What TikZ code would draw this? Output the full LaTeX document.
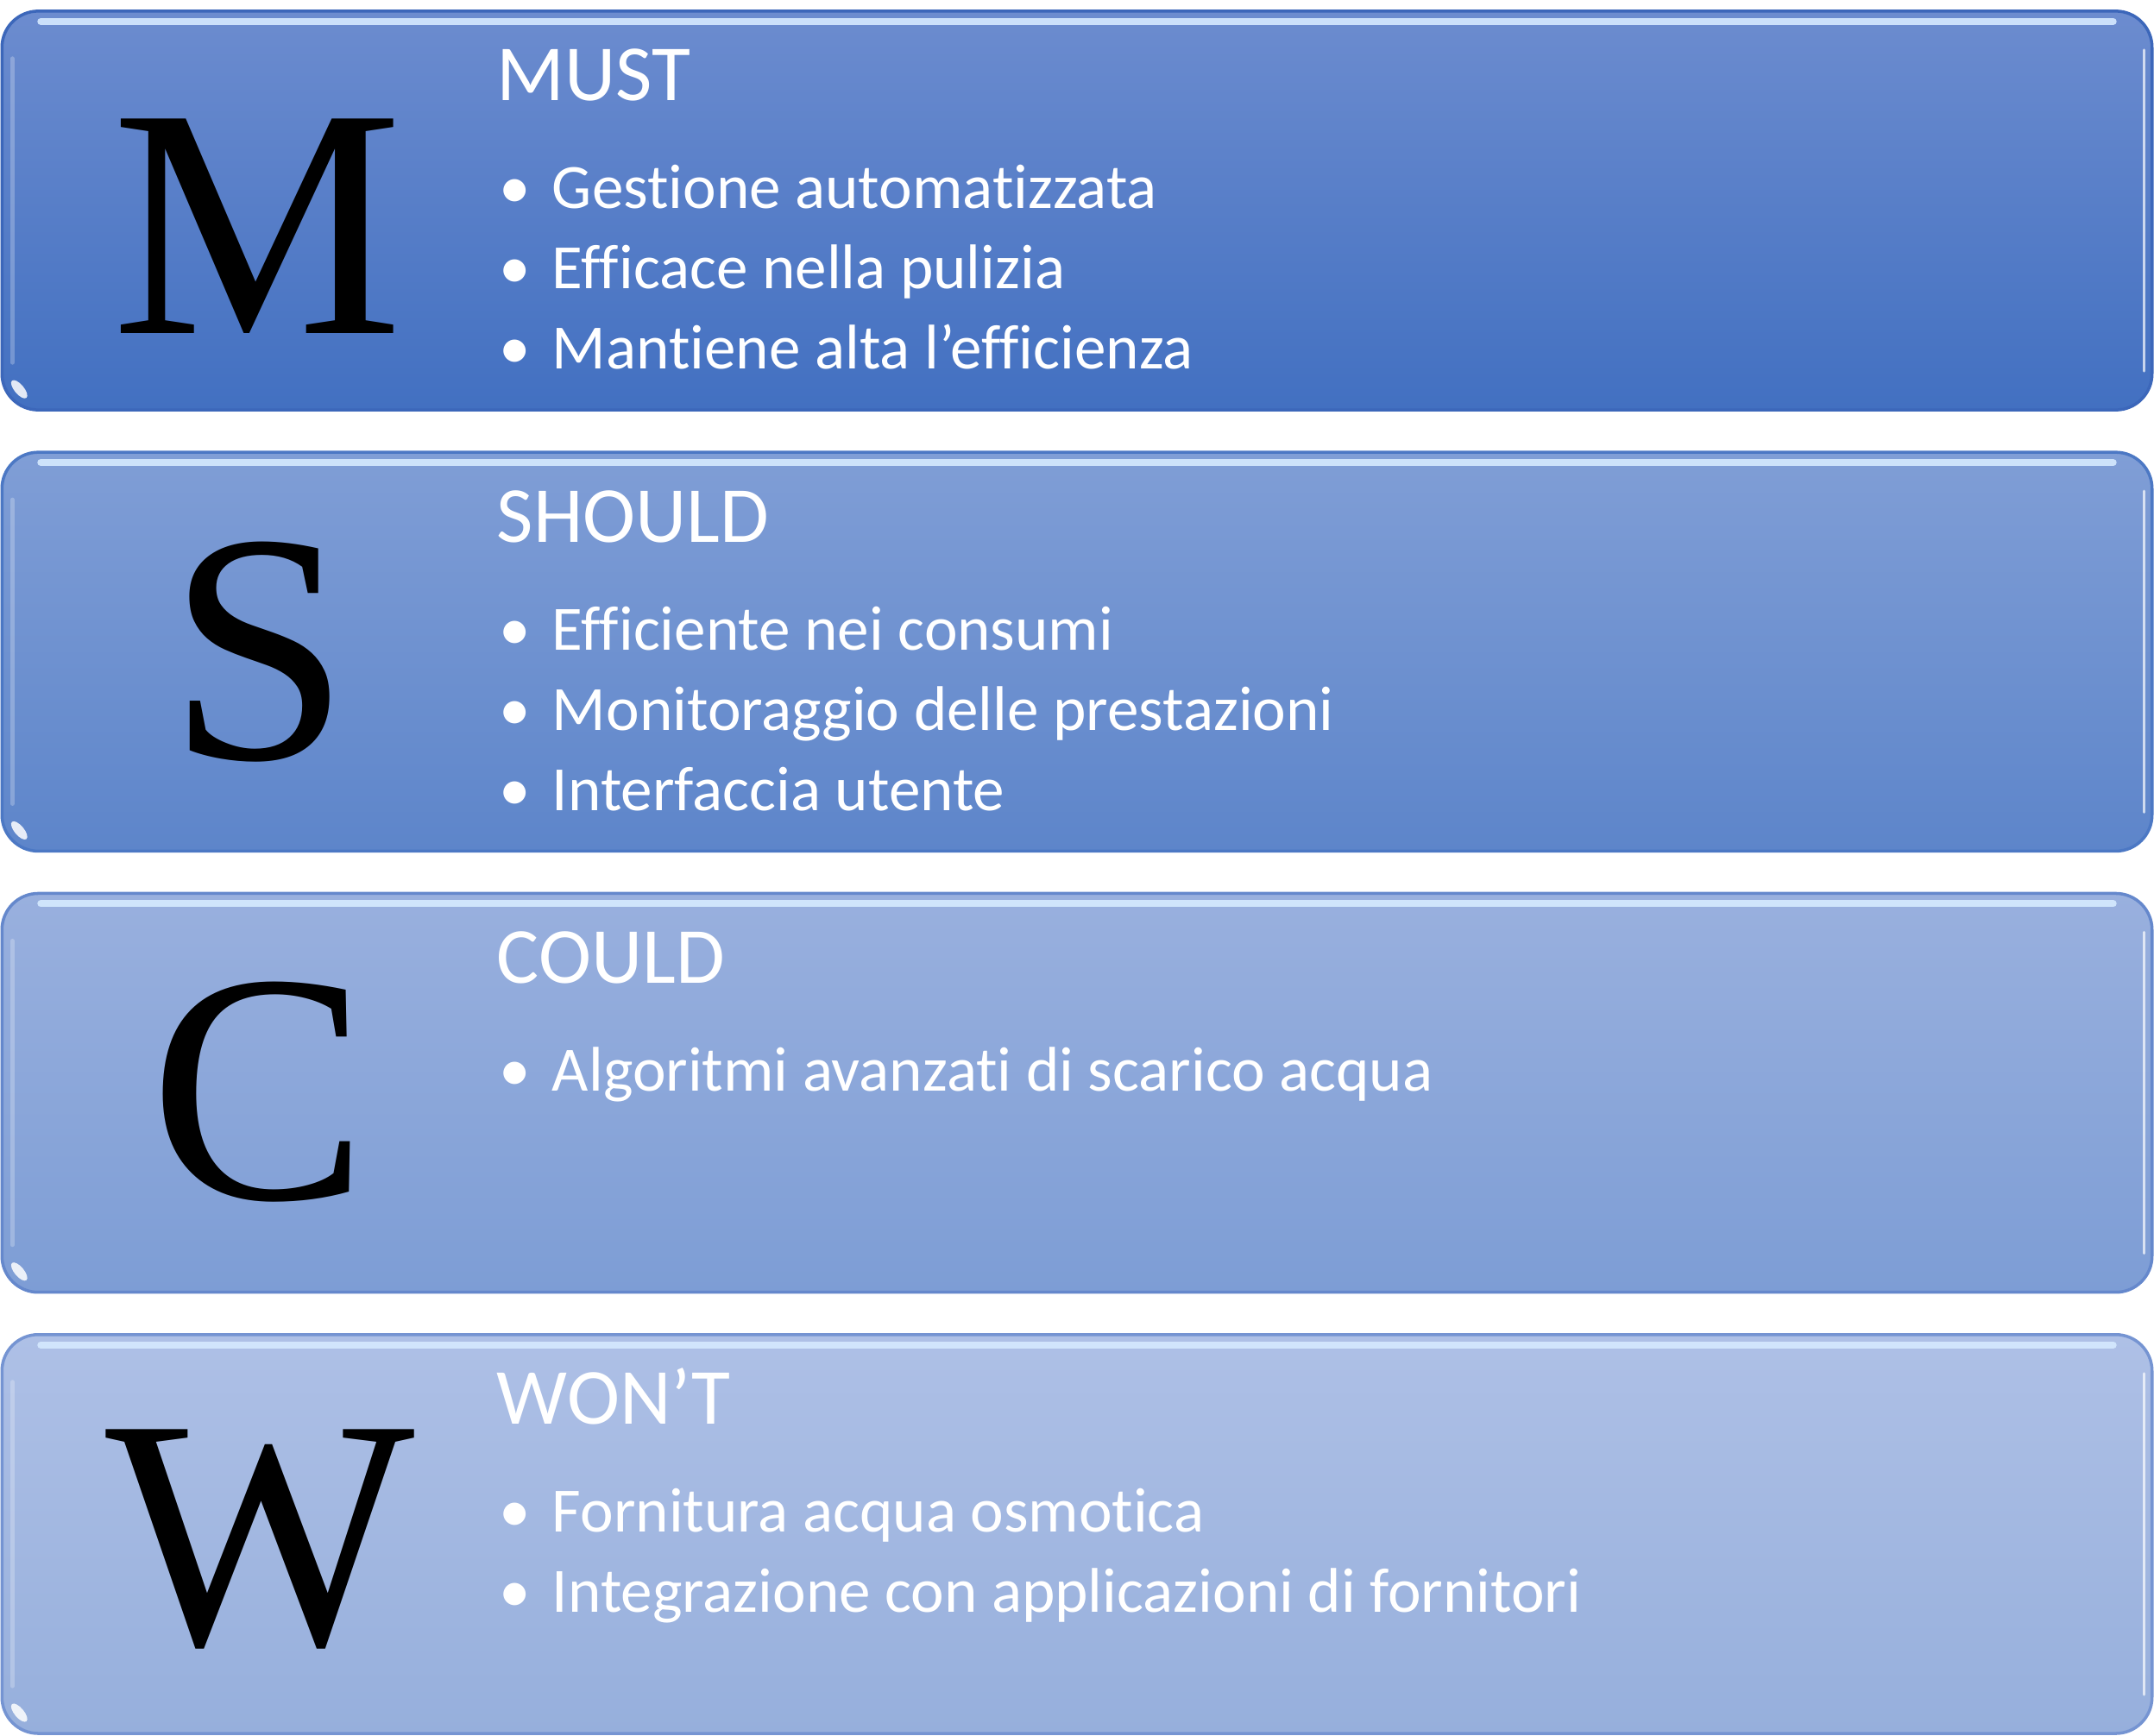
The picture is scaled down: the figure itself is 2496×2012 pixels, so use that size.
\documentclass[tikz,border=0pt]{standalone}
\usepackage{fontspec}
\setmainfont{Carlito}[Ligatures=NoCommon]
\newfontfamily\capfont{Liberation Serif}
\usetikzlibrary{positioning,calc}
\definecolor{MustTop}{HTML}{6C8CCF}
\definecolor{MustBottom}{HTML}{4270C1}
\definecolor{MustEdge}{HTML}{3C67BA}
\definecolor{ShouldTop}{HTML}{809ED6}
\definecolor{ShouldBottom}{HTML}{5D85CA}
\definecolor{ShouldEdge}{HTML}{4C78C4}
\definecolor{CouldTop}{HTML}{99B0DE}
\definecolor{CouldBottom}{HTML}{7D9DD5}
\definecolor{CouldEdge}{HTML}{6588CC}
\definecolor{WontTop}{HTML}{AEC0E6}
\definecolor{WontBottom}{HTML}{96AFDC}
\definecolor{WontEdge}{HTML}{7594D2}
\definecolor{GlossLight}{HTML}{D6EAFF}
\tikzset{
  panel/.style={draw=#1Edge, top color=#1Top, bottom color=#1Bottom,
    rounded corners=0.42cm, line width=1pt, minimum width=24.9cm,
    minimum height=4.62cm, inner sep=0pt, outer sep=0pt},
  bigletter/.style={font=\capfont\fontsize{108}{108}\selectfont,
    text=black, inner sep=0pt},
  heading/.style={font=\fontsize{26.2}{30}\selectfont, text=white,
    inner sep=0pt, anchor=base west},
  itemline/.style={font=\fontsize{20.8}{24}\selectfont, text=white,
    inner sep=0pt, anchor=base west},
  gloss/.style={draw=GlossLight, line width=0.08cm, line cap=round, opacity=0.9},
  sideglow/.style={draw=white, line width=0.05cm, line cap=round, opacity=0.25},
  rimglow/.style={draw=white, line width=0.03cm, line cap=round, opacity=0.7}
}

\begin{document}
\begin{tikzpicture}[x=0.01cm, y=-0.01cm]
  \useasboundingbox (0,0) rectangle (2496,2012);

  % the four priority panels
  \node[panel=Must] (mbox) at (1248,244) {};
  \node[panel=Should, below=0.49cm of mbox] (sbox) {};
  \node[panel=Could, below=0.49cm of sbox] (cbox) {};
  \node[panel=Wont, below=0.49cm of cbox] (wbox) {};

  % glossy edges
  \foreach \b in {mbox,sbox,cbox,wbox} {
    \draw[gloss] ($(\b.north west)+(45,12)$) -- ($(\b.north east)+(-45,12)$);
    \draw[sideglow] ($(\b.north west)+(12,55)$) -- ($(\b.south west)+(12,-55)$);
    \draw[rimglow] ($(\b.north east)+(-9,45)$) -- ($(\b.south east)+(-9,-45)$);
    \begin{scope}[shift={($(\b.south west)+(20,-24)$)}, rotate=-50]
      \fill[white, opacity=0.85] (0,0) ellipse (0.13cm and 0.055cm);
    \end{scope}
  }

  % initials
  \node[bigletter] (mletter) at ($(mbox.west)+(296,18)$) {M};
  \node[bigletter] (sletter) at ($(sbox.west)+(298,0)$) {S};
  \node[bigletter] (cletter) at ($(cbox.west)+(298,-1)$) {C};
  \node[bigletter] (wletter) at ($(wbox.west)+(299,6)$) {W};

  % MUST
  \node[heading] (mtitle) at ($(mbox.north west)+(573,104)$) {MUST};
  \foreach \txt [count=\i] in {Gestione automatizzata, Efficace nella pulizia,
      Mantiene alta l’efficienza}
    \node[itemline] (m\i) at ($(mbox.north west)+(637,{229+93*(\i-1)})$)
      {\llap{•\hspace{0.25cm}}\txt};

  % SHOULD
  \node[heading] (stitle) at ($(sbox.north west)+(573,104)$) {SHOULD};
  \foreach \txt [count=\i] in {Efficiente nei consumi, Monitoraggio delle prestazioni,
      Interfaccia utente}
    \node[itemline] (s\i) at ($(sbox.north west)+(637,{229+93*(\i-1)})$)
      {\llap{•\hspace{0.25cm}}\txt};

  % COULD
  \node[heading] (ctitle) at ($(cbox.north west)+(573,104)$) {COULD};
  \node[itemline] (c1) at ($(cbox.north west)+(637,229)$)
    {\llap{•\hspace{0.25cm}}Algoritmi avanzati di scarico acqua};

  % WON'T
  \node[heading] (wtitle) at ($(wbox.north west)+(573,104)$) {WON’T};
  \foreach \txt [count=\i] in {Fornitura acqua osmotica,
      Integrazione con applicazioni di fornitori}
    \node[itemline] (w\i) at ($(wbox.north west)+(637,{229+93*(\i-1)})$)
      {\llap{•\hspace{0.25cm}}\txt};
\end{tikzpicture}
\end{document}
